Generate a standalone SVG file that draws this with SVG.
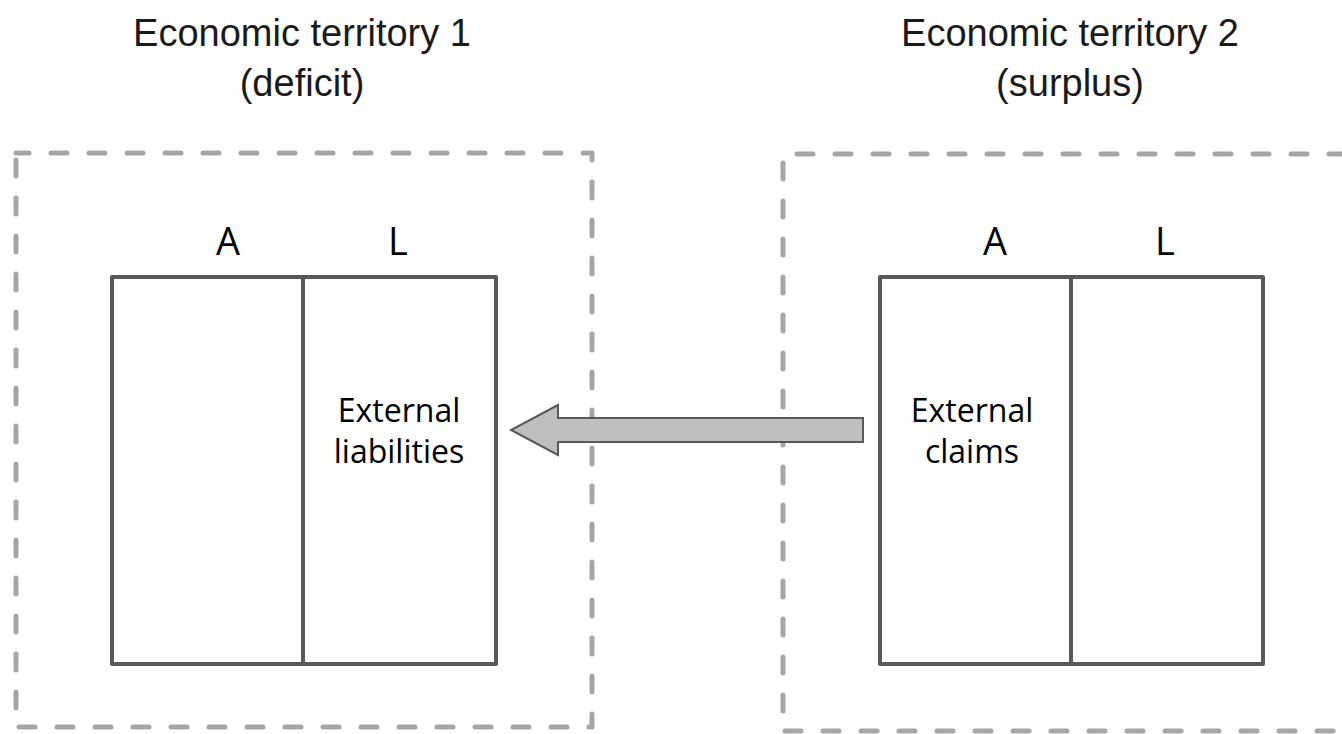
<svg xmlns="http://www.w3.org/2000/svg" width="1342" height="734" viewBox="0 0 1342 734">
<style>
.title{font-family:"Liberation Sans",Arial,sans-serif;font-size:38px;fill:#1a1a1a;text-anchor:middle}
.hdr{font-family:"Open Sans","Noto Sans",sans-serif;font-size:38px;fill:#000;text-anchor:middle}
.lbl{font-family:"Open Sans","Noto Sans",sans-serif;font-size:32px;fill:#000;text-anchor:middle}
.terr{fill:none;stroke:#a6a6a6;stroke-width:5;stroke-dasharray:16 22;stroke-linecap:round;stroke-linejoin:round}
.bs{fill:#fff;stroke:#595959;stroke-width:4;stroke-linejoin:round}
</style>
<rect width="1342" height="734" fill="#fff"/>
<g id="territory1">
<text class="title" x="302" y="46">Economic territory 1</text>
<text class="title" x="302" y="96">(deficit)</text>
<path class="terr" d="M16 160 L16 727 L592 727 L592 153 L16 153"/>
</g>
<g id="territory2">
<text class="title" x="1070" y="46">Economic territory 2</text>
<text class="title" x="1070" y="96">(surplus)</text>
<path class="terr" d="M783 163 L783 731 L1345 731 M1345 154 L783 154"/>
</g>
<g id="balance1">
<text class="hdr" x="228" y="255">A</text>
<text class="hdr" x="398" y="255">L</text>
<rect class="bs" x="112" y="277" width="384" height="387"/>
<line class="bs" x1="303" y1="277" x2="303" y2="664"/>
<text class="lbl" x="399" y="422">External</text>
<text class="lbl" x="399" y="463">liabilities</text>
</g>
<g id="balance2">
<text class="hdr" x="995" y="255">A</text>
<text class="hdr" x="1165" y="255">L</text>
<rect class="bs" x="880" y="277" width="383" height="387"/>
<line class="bs" x1="1071" y1="277" x2="1071" y2="664"/>
<text class="lbl" x="972" y="422">External</text>
<text class="lbl" x="972" y="463">claims</text>
</g>
<g id="connectors">
<path d="M863 418 L558 418 L558 405 L511 430 L558 455 L558 442 L863 442 Z" fill="#bfbfbf" stroke="#595959" stroke-width="2" stroke-linejoin="miter"/>
</g>
</svg>
